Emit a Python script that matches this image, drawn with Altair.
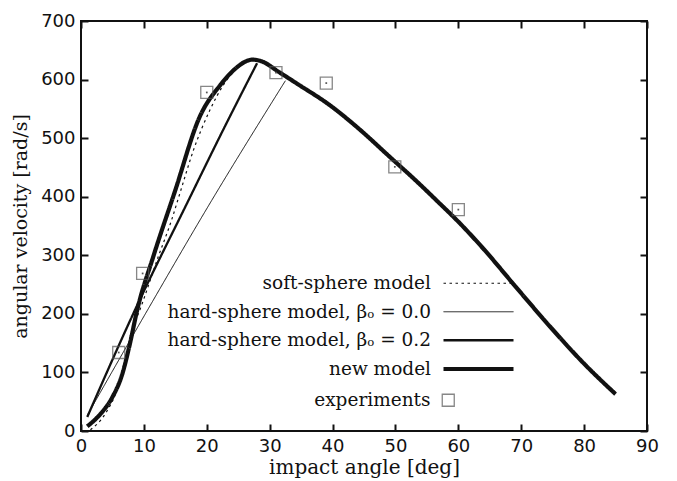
import altair as alt
import pandas as pd

# ---- data ----
x_ticks = [0, 10, 20, 30, 40, 50, 60, 70, 80, 90]
y_ticks = [0, 100, 200, 300, 400, 500, 600, 700]

models = ["soft-sphere model", "hard-sphere model, βₒ = 0.0",
          "hard-sphere model, βₒ = 0.2", "new model"]

soft_deg = [1.5, 3.9, 5.7, 7.0, 8.1, 9.3, 12.3, 14.4, 15.7, 17.9, 20.5, 22.6, 24.8, 26.5]
soft_val = [2, 30, 70, 121, 172, 205, 298, 360, 405, 480, 548, 590, 619, 631]

hs0_deg = [1.0, 10.5, 20.8, 32.5]
hs0_val = [27, 205, 394, 598]

hs2_deg = [1.0, 8.6, 17.1, 22.6, 28.0]
hs2_val = [24, 207, 394, 514, 628]

new_deg = [1.0, 3.0, 5.0, 6.5, 7.8, 8.9, 11.5, 14.9, 18.9, 22.1, 24.8, 26.0, 27.2,
           28.5, 31.6, 34.5, 39.6, 44.4, 49.1, 53.4, 56.5, 60.3, 64.0, 69.3, 74.6, 79.9, 85.0]
new_val = [8, 28, 58, 95, 150, 205, 298, 408, 537, 590, 621, 630, 634,
           632, 612, 592, 556, 514, 468, 426, 394, 354, 311, 244, 178, 116, 63]

exp_deg = [6.0, 9.8, 20.0, 31.0, 39.0, 49.9, 60.0]
exp_val = [134, 269, 578, 612, 594, 451, 378]

rows = []
for name, xs, ys in zip(models, [soft_deg, hs0_deg, hs2_deg, new_deg],
                        [soft_val, hs0_val, hs2_val, new_val]):
    for x, y in zip(xs, ys):
        rows.append({"model": name, "deg": x, "val": y})
lines_df = pd.DataFrame(rows)
exp_df = pd.DataFrame({"deg": exp_deg, "val": exp_val, "label": "experiments"})

INK = "#111111"
TICK = 7

xscale = alt.Scale(domain=[0, 90], nice=False, zero=False)
yscale = alt.Scale(domain=[0, 700], nice=False, zero=False)

x_main = alt.X("deg:Q", scale=xscale, axis=alt.Axis(
    values=x_ticks, title="impact angle [deg]", orient="bottom", labelFlush=False,
    offset=-TICK, tickSize=TICK, domain=False, labelPadding=6, titlePadding=2,
    titleFontSize=20))
y_main = alt.Y("val:Q", scale=yscale, axis=alt.Axis(
    values=y_ticks, title="angular velocity [rad/s]", orient="left", labelFlush=False,
    offset=-TICK, tickSize=TICK, domain=False, labelPadding=6, titlePadding=10,
    titleFontSize=19))

# long horizontal stroke symbol (path scaled by sqrt(symbolSize)/2 = 7 -> 70 px)
line_legend = alt.Legend(
    title=None, orient="none", legendX=388, legendY=253,
    symbolType="M-5,0H5", symbolSize=196, symbolStrokeColor=INK,
    symbolFillColor="transparent",
    labelAlign="right", labelOffset={"expr": "-57"}, labelFont="DejaVu Serif",
    labelFontSize=18.5, labelColor=INK, rowPadding=9.5,
    labelLimit=500, padding=0)

lines = alt.Chart(lines_df).mark_line(color=INK, interpolate="monotone").encode(
    x=x_main,
    y=y_main,
    strokeDash=alt.StrokeDash("model:N", sort=models, scale=alt.Scale(
        type="ordinal", domain=models, range=[[2.5, 3.5], [1, 0], [1, 0], [1, 0]]),
        legend=line_legend),
    strokeWidth=alt.StrokeWidth("model:N", sort=models, scale=alt.Scale(
        type="ordinal", domain=models, range=[1.2, 1.0, 2.3, 4.2]), legend=line_legend),
)

exp_legend = alt.Legend(
    title=None, orient="none", legendX=358, legendY=370,
    symbolSize=144, symbolStrokeColor="#555555", symbolStrokeWidth=1.3,
    symbolFillColor="transparent",
    labelAlign="right", labelOffset={"expr": "-27"}, labelFont="DejaVu Serif",
    labelFontSize=18.5, labelColor=INK, labelLimit=500, padding=0)

squares = alt.Chart(exp_df).mark_point(filled=False, size=144, strokeWidth=1.3,
                                       color="#555555").encode(
    x=alt.X("deg:Q", scale=xscale, axis=None),
    y=alt.Y("val:Q", scale=yscale, axis=None),
    shape=alt.Shape("label:N", scale=alt.Scale(domain=["experiments"], range=["square"]),
                    legend=exp_legend),
)

dots = alt.Chart(exp_df).mark_point(filled=True, shape="square", size=3,
                                    color="#555555", opacity=1).encode(
    x=alt.X("deg:Q", scale=xscale, axis=alt.Axis(
        values=x_ticks, orient="top", labels=False, title=None,
        offset=-TICK, tickSize=TICK, domain=False)),
    y=alt.Y("val:Q", scale=yscale, axis=alt.Axis(
        values=y_ticks, orient="right", labels=False, title=None,
        offset=-TICK, tickSize=TICK, domain=False)),
)

chart = alt.layer(lines, squares, dots).resolve_axis(
    x="independent", y="independent"
).properties(
    width=566, height=410,
    autosize=alt.AutoSizeParams(type="none"),
    padding={"left": 81, "top": 21, "right": 30, "bottom": 50},
).configure_view(
    stroke=INK, strokeWidth=2
).configure_axis(
    labelFont="DejaVu Sans", labelFontSize=18, labelColor=INK,
    tickColor=INK, tickWidth=2, grid=False,
    titleFont="DejaVu Serif", titleFontWeight="normal", titleColor=INK,
)

chart.save("out.html", embed_options={"renderer": "svg", "actions": False})
